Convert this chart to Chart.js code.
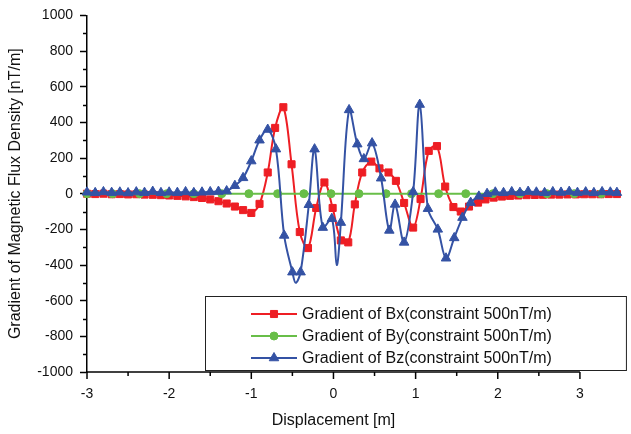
<!DOCTYPE html>
<html>
<head>
<meta charset="utf-8">
<script src="https://cdn.jsdelivr.net/npm/chart.js"></script>
<style>
  html, body { margin: 0; padding: 0; background: #fff; }
  #wrap { width: 631px; height: 434px; }
</style>
</head>
<body>
<div id="wrap"><canvas id="gradChart" width="631" height="434"></canvas></div>
<script>
// displacement [m] and gradient values [nT/m] for each component
const bxPos = [-3.0, -2.9, -2.8, -2.7, -2.6, -2.5, -2.4, -2.3, -2.2, -2.1, -2.0, -1.9, -1.8, -1.7, -1.6, -1.5, -1.4, -1.3, -1.2, -1.1, -1.0,
  -0.9, -0.8, -0.71, -0.61, -0.51, -0.41, -0.31, -0.21, -0.11, -0.01, 0.09, 0.18, 0.26, 0.35, 0.46, 0.56, 0.67, 0.76, 0.86, 0.97,
  1.06, 1.16, 1.26, 1.36, 1.46, 1.55, 1.65, 1.76, 1.85, 1.95, 2.05, 2.15, 2.25, 2.35, 2.45, 2.55, 2.65, 2.75, 2.85, 2.95, 3.05, 3.15, 3.25, 3.35, 3.45];
const bxVals = [0, -2, 0, -3, -2, -4, -3, -5, -6, -8, -10, -12, -15, -19, -24, -32, -42, -55, -72, -92, -108,
  -57, 119, 369, 485, 165, -215, -305, -80, 63, -80, -262, -273, -60, 119, 180, 142, 119, 72, -52, -190,
  -30, 240, 267, 40, -75, -100, -72, -50, -32, -22, -16, -12, -10, -8, -7, -6, -5, -5, -4, -4, -3, -3, -3, -2, -2];

const byPos = [-3.0, -2.69, -2.36, -2.03, -1.70, -1.36, -1.03, -0.68, -0.36, -0.03, 0.31, 0.64, 0.95, 1.28, 1.61, 1.94, 2.27, 2.60, 2.93, 3.26];
const byVals = [0, 0, 0, 0, 0, 0, 0, 0, 0, 0, 0, 0, 0, 0, 0, 0, 0, 0, 0, 0];

const bzPos = [-3.0, -2.9, -2.8, -2.7, -2.6, -2.5, -2.4, -2.3, -2.2, -2.1, -2.0, -1.9, -1.8, -1.7, -1.6, -1.5, -1.4,
  -1.3, -1.2, -1.1, -1.0, -0.9, -0.8, -0.7, -0.6, -0.5, -0.46, -0.4, -0.3, -0.23, -0.13, -0.02, 0.04, 0.09,
  0.19, 0.29, 0.37, 0.47, 0.58, 0.68, 0.75, 0.86, 0.97, 1.05, 1.15, 1.27, 1.37, 1.47, 1.57, 1.67, 1.77,
  1.87, 1.97, 2.07, 2.17, 2.27, 2.37, 2.47, 2.57, 2.67, 2.77, 2.87, 2.97, 3.07, 3.17, 3.27, 3.37, 3.45];
const bzVals = [8, 5, 10, 6, 8, 4, 9, 6, 12, 5, 8, 6, 10, 5, 8, 10, 12,
  15, 45, 89, 183, 300, 360, 250, -234, -440, -500, -440, -62, 250, -190, -140, -400, -162,
  470, 278, 195, 284, 87, -206, -60, -273, 10, 500, -84, -200, -362, -248, -134, -50, -15,
  0, 8, 5, 10, 6, 12, 8, 5, 10, 7, 12, 6, 9, 5, 10, 8, 6];
// samples of Bz that are joined by the line but carry no marker
const bzLineOnly = [26, 32];

const yTicks = [-1000, -800, -600, -400, -200, 0, 200, 400, 600, 800, 1000];
const xTicks = [-3, -2, -1, 0, 1, 2, 3];

const xTitle = "Displacement [m]";
const yTitle = "Gradient of Magnetic Flux Density [nT/m]";
const seriesNames = [
  "Gradient of Bx(constraint 500nT/m)",
  "Gradient of By(constraint 500nT/m)",
  "Gradient of Bz(constraint 500nT/m)"
];

const RED = "rgb(238,30,36)";
const GREEN = "rgb(104,190,72)";
const BLUE = "rgb(52,82,164)";
const FONT = "'Liberation Sans', Arial, sans-serif";

function toPoints(xs, ys) {
  return xs.map((x, i) => ({ x: x, y: ys[i] }));
}

// bottom axis line and title (only over the labelled range) plus small ticks between labels
const axisExtras = {
  id: "axisExtras",
  afterDraw(chart) {
    const ctx = chart.ctx;
    const xs = chart.scales.x, ys = chart.scales.y;
    const x0 = xs.getPixelForValue(xTicks[0]);
    const x1 = xs.getPixelForValue(xTicks[xTicks.length - 1]);
    ctx.save();
    ctx.strokeStyle = "#000";
    ctx.lineWidth = 1.5;
    ctx.beginPath();
    ctx.moveTo(x0 - 0.75, ys.bottom);
    ctx.lineTo(x1, ys.bottom);
    ctx.stroke();
    for (let i = 0; i < xTicks.length; i++) {
      const px = xs.getPixelForValue(xTicks[i]);
      ctx.beginPath();
      ctx.moveTo(px, ys.bottom);
      ctx.lineTo(px, ys.bottom + 7);
      ctx.stroke();
    }
    for (let i = 0; i < xTicks.length - 1; i++) {
      const px = xs.getPixelForValue((xTicks[i] + xTicks[i + 1]) / 2);
      ctx.beginPath();
      ctx.moveTo(px, ys.bottom);
      ctx.lineTo(px, ys.bottom + 4);
      ctx.stroke();
    }
    for (let i = 0; i < yTicks.length - 1; i++) {
      const py = Math.round(ys.getPixelForValue((yTicks[i] + yTicks[i + 1]) / 2)) + 0.5;
      ctx.beginPath();
      ctx.moveTo(xs.left, py);
      ctx.lineTo(xs.left - 4, py);
      ctx.stroke();
    }
    ctx.fillStyle = "#111";
    ctx.font = "16px " + FONT;
    ctx.textAlign = "center";
    ctx.textBaseline = "middle";
    ctx.fillText(xTitle, (x0 + x1) / 2, 421);
    ctx.restore();
  }
};

// boxed legend sitting in the lower right of the plot
const boxLegend = {
  id: "boxLegend",
  afterDraw(chart) {
    const ctx = chart.ctx;
    const area = chart.chartArea;
    const right = chart.scales.x.getPixelForValue(xTicks[xTicks.length - 1]) + 46;
    const bottom = area.bottom - 2;
    const left = area.left + 118, top = bottom - 74;
    ctx.save();
    ctx.fillStyle = "#fff";
    ctx.fillRect(left, top, right - left, bottom - top);
    ctx.strokeStyle = "#222";
    ctx.lineWidth = 1;
    ctx.strokeRect(left + 0.5, top + 0.5, right - left, bottom - top);
    ctx.font = "16px " + FONT;
    ctx.textBaseline = "middle";
    chart.data.datasets.forEach((ds, i) => {
      const y = top + 18 + i * 22;
      const x0 = left + 46;
      ctx.strokeStyle = ds.borderColor;
      ctx.lineWidth = 2;
      ctx.beginPath();
      ctx.moveTo(x0, y);
      ctx.lineTo(x0 + 46, y);
      ctx.stroke();
      ctx.fillStyle = ds.borderColor;
      ctx.strokeStyle = ds.borderColor;
      ctx.lineWidth = 1;
      Chart.helpers.drawPoint(ctx, { pointStyle: ds.pointStyle, radius: ds.legendRadius, rotation: 0, borderWidth: 1 }, x0 + 23, y);
      ctx.fillStyle = "#111";
      ctx.fillText(ds.label, x0 + 51, y + 1);
    });
    ctx.restore();
  }
};

const baseSet = {
  borderWidth: 2,
  tension: 0.35,
  clip: false,
  pointBorderWidth: 1
};

const config = {
  type: "line",
  data: {
    datasets: [
      Object.assign({}, baseSet, {
        label: seriesNames[0],
        data: toPoints(bxPos, bxVals),
        borderColor: RED,
        backgroundColor: RED,
        pointStyle: "rect",
        pointRadius: 5,
        legendRadius: 5,
        order: 2
      }),
      Object.assign({}, baseSet, {
        label: seriesNames[1],
        data: toPoints(byPos, byVals),
        borderColor: GREEN,
        backgroundColor: GREEN,
        pointStyle: "circle",
        pointRadius: 4,
        legendRadius: 4,
        order: 1
      }),
      Object.assign({}, baseSet, {
        label: seriesNames[2],
        data: toPoints(bzPos, bzVals),
        borderColor: BLUE,
        backgroundColor: BLUE,
        pointStyle: "triangle",
        pointRadius: (c) => bzLineOnly.includes(c.dataIndex) ? 0 : 5.5,
        legendRadius: 5.5,
        order: 0
      })
    ]
  },
  options: {
    responsive: false,
    animation: false,
    events: [],
    layout: { padding: { left: 0, right: 10, top: 13, bottom: 0 } },
    plugins: {
      legend: { display: false },
      tooltip: { enabled: false }
    },
    scales: {
      x: {
        type: "linear",
        min: -3,
        max: 3.5,
        afterBuildTicks: (s) => { s.ticks = xTicks.map((v) => ({ value: v })); },
        afterFit: (s) => { s.height = 62; },
        border: { display: false },
        grid: { display: false, drawTicks: false },
        ticks: { color: "#111", font: { family: FONT, size: 14 }, padding: 14, maxRotation: 0, callback: (v) => String(v) },
        title: { display: false }
      },
      y: {
        min: -1000,
        max: 1000,
        afterBuildTicks: (s) => { s.ticks = yTicks.map((v) => ({ value: v })); },
        afterFit: (s) => { s.width = 87; },
        border: { display: true, color: "#000", width: 1.5 },
        grid: { display: true, drawOnChartArea: false, drawTicks: true, tickLength: 7, tickColor: "#000", tickWidth: 1.5 },
        ticks: { color: "#111", font: { family: FONT, size: 14 }, padding: 7, callback: (v) => String(v) },
        title: { display: true, text: yTitle, color: "#111", font: { family: FONT, size: 16 }, padding: { top: 6, bottom: 0 } }
      }
    }
  },
  plugins: [axisExtras, boxLegend]
};

new Chart(document.getElementById("gradChart"), config);
</script>
</body>
</html>
